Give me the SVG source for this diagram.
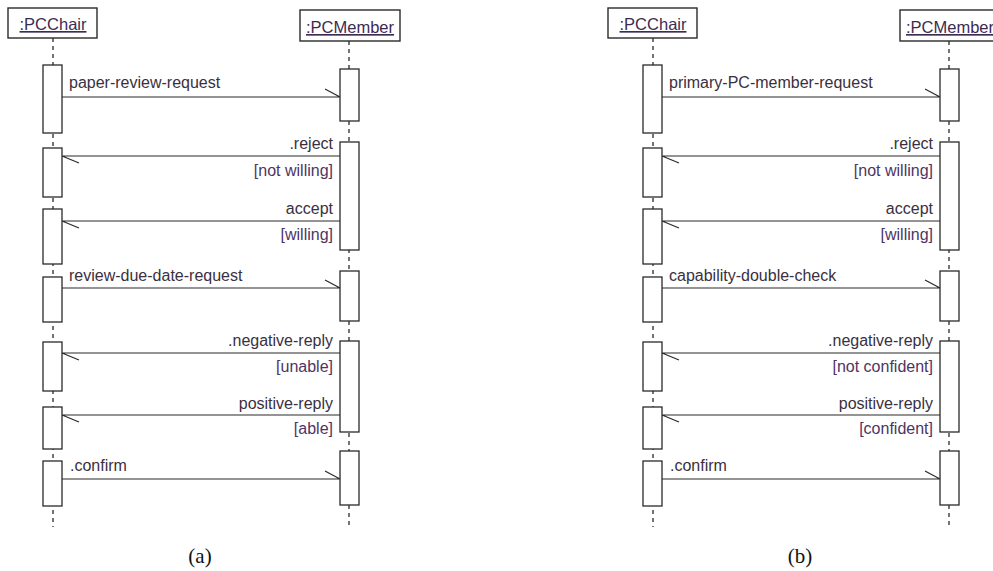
<svg xmlns="http://www.w3.org/2000/svg" width="993" height="571" viewBox="0 0 993 571">
  <style>
    .obj { fill: #ffffff; stroke: #2a2a2a; stroke-width: 1.4; }
    .act { fill: #ffffff; stroke: #2a2a2a; stroke-width: 1.3; }
    .life { stroke: #2a2a2a; stroke-width: 1.3; stroke-dasharray: 4 4; fill: none; }
    .msg { stroke: #2a2a2a; stroke-width: 1.2; fill: none; }
    .name { font-family: "Liberation Sans", Arial, sans-serif; font-size: 16.5px; fill: #3d2b52; text-decoration: underline; text-anchor: middle; }
    .lbl { font-family: "Liberation Sans", Arial, sans-serif; font-size: 16px; fill: #3a3040; }
    .grd { font-family: "Liberation Sans", Arial, sans-serif; font-size: 16px; fill: #4e3563; }
    .end { text-anchor: end; }
    .cap { font-family: "Liberation Serif", "Times New Roman", serif; font-size: 21px; fill: #111111; text-anchor: middle; }
  </style>
  <rect width="993" height="571" fill="#ffffff"/>

  <!-- Panel (a) -->
  <g id="panel-a">
    <g id="a-pcchair">
      <line class="life" x1="53" y1="38" x2="53" y2="527"/>
      <rect class="obj" x="8" y="8" width="89" height="30"/>
      <text class="name" x="53" y="30">:PCChair</text>
      <rect class="act" x="43" y="65" width="19" height="68"/>
      <rect class="act" x="43" y="148" width="19" height="49"/>
      <rect class="act" x="43" y="209" width="19" height="55"/>
      <rect class="act" x="43" y="277" width="19" height="45"/>
      <rect class="act" x="43" y="342" width="19" height="49"/>
      <rect class="act" x="43" y="407" width="19" height="42"/>
      <rect class="act" x="43" y="461" width="19" height="45"/>
    </g>
    <g id="a-pcmember">
      <line class="life" x1="349" y1="41" x2="349" y2="529"/>
      <rect class="obj" x="300" y="10" width="100" height="31"/>
      <text class="name" x="350" y="33">:PCMember</text>
      <rect class="act" x="340" y="69" width="19" height="52"/>
      <rect class="act" x="340" y="142" width="19" height="108"/>
      <rect class="act" x="340" y="271" width="19" height="50"/>
      <rect class="act" x="340" y="341" width="19" height="91"/>
      <rect class="act" x="340" y="451" width="19" height="54"/>
    </g>
    <g id="a-connectors">
      <path class="msg" d="M62 97H340M325 89L340 97"/>
      <path class="msg" d="M340 156H62M62 156L79 163"/>
      <path class="msg" d="M340 221H62M62 221L79 228"/>
      <path class="msg" d="M62 288H340M325 280L340 288"/>
      <path class="msg" d="M340 353H62M62 353L79 360"/>
      <path class="msg" d="M340 415H62M62 415L79 422"/>
      <path class="msg" d="M62 479H340M325 471L340 479"/>
      <text class="lbl" x="69" y="88">paper-review-request</text>
      <text class="lbl end" x="333" y="149">.reject</text>
      <text class="grd end" x="333" y="176">[not willing]</text>
      <text class="lbl end" x="333" y="214">accept</text>
      <text class="grd end" x="333" y="240">[willing]</text>
      <text class="lbl" x="69" y="281">review-due-date-request</text>
      <text class="lbl end" x="333" y="346">.negative-reply</text>
      <text class="grd end" x="333" y="372">[unable]</text>
      <text class="lbl end" x="333" y="409">positive-reply</text>
      <text class="grd end" x="333" y="434">[able]</text>
      <text class="lbl" x="70" y="471">.confirm</text>
    </g>
    <text class="cap" x="200" y="563">(a)</text>
  </g>

  <!-- Panel (b) -->
  <g id="panel-b">
    <g id="b-pcchair">
      <line class="life" x1="653" y1="38" x2="653" y2="527"/>
      <rect class="obj" x="608" y="8" width="89" height="30"/>
      <text class="name" x="653" y="30">:PCChair</text>
      <rect class="act" x="643" y="65" width="19" height="68"/>
      <rect class="act" x="643" y="148" width="19" height="49"/>
      <rect class="act" x="643" y="209" width="19" height="55"/>
      <rect class="act" x="643" y="277" width="19" height="45"/>
      <rect class="act" x="643" y="342" width="19" height="49"/>
      <rect class="act" x="643" y="407" width="19" height="42"/>
      <rect class="act" x="643" y="461" width="19" height="45"/>
    </g>
    <g id="b-pcmember">
      <line class="life" x1="949" y1="41" x2="949" y2="529"/>
      <rect class="obj" x="900" y="10" width="100" height="31"/>
      <text class="name" x="950" y="33">:PCMember</text>
      <rect class="act" x="940" y="69" width="19" height="52"/>
      <rect class="act" x="940" y="142" width="19" height="108"/>
      <rect class="act" x="940" y="271" width="19" height="50"/>
      <rect class="act" x="940" y="341" width="19" height="91"/>
      <rect class="act" x="940" y="451" width="19" height="54"/>
    </g>
    <g id="b-connectors">
      <path class="msg" d="M662 97H940M925 89L940 97"/>
      <path class="msg" d="M940 156H662M662 156L679 163"/>
      <path class="msg" d="M940 221H662M662 221L679 228"/>
      <path class="msg" d="M662 288H940M925 280L940 288"/>
      <path class="msg" d="M940 353H662M662 353L679 360"/>
      <path class="msg" d="M940 415H662M662 415L679 422"/>
      <path class="msg" d="M662 479H940M925 471L940 479"/>
      <text class="lbl" x="669" y="88">primary-PC-member-request</text>
      <text class="lbl end" x="933" y="149">.reject</text>
      <text class="grd end" x="933" y="176">[not willing]</text>
      <text class="lbl end" x="933" y="214">accept</text>
      <text class="grd end" x="933" y="240">[willing]</text>
      <text class="lbl" x="669" y="281">capability-double-check</text>
      <text class="lbl end" x="933" y="346">.negative-reply</text>
      <text class="grd end" x="933" y="372">[not confident]</text>
      <text class="lbl end" x="933" y="409">positive-reply</text>
      <text class="grd end" x="933" y="434">[confident]</text>
      <text class="lbl" x="670" y="471">.confirm</text>
    </g>
    <text class="cap" x="800" y="563">(b)</text>
  </g>
</svg>
